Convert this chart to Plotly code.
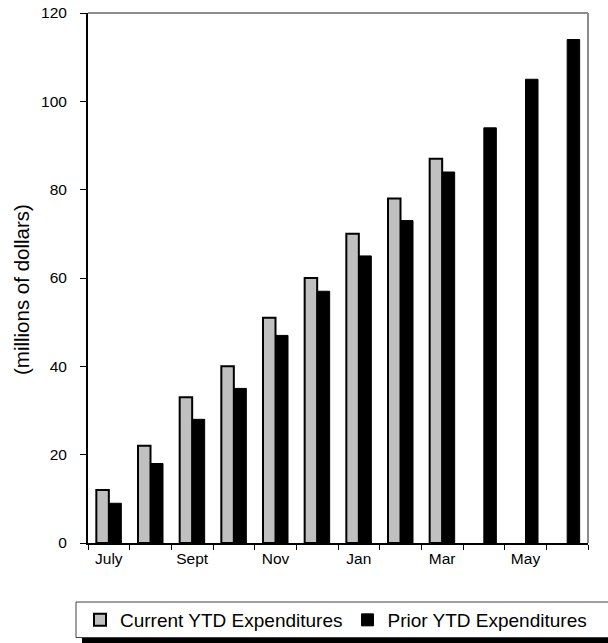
import plotly.graph_objects as go

months = ["July", "Aug", "Sept", "Oct", "Nov", "Dec", "Jan", "Feb", "Mar", "Apr", "May", "June"]
tick_labels = ["July", "", "Sept", "", "Nov", "", "Jan", "", "Mar", "", "May", ""]
current_ytd = [12, 22, 33, 40, 51, 60, 70, 78, 87, None, None, None]
prior_ytd = [9, 18, 28, 35, 47, 57, 65, 73, 84, 94, 105, 114]
y_ticks = [0, 20, 40, 60, 80, 100, 120]

W, H = 608, 643
L, R, T, B = 88, 20, 13, 100
pw, ph = W - L - R, H - T - B

def px_x(x):
    return (x - L) / pw

def px_y(y):
    return (H - B - y) / ph

fig = go.Figure()
fig.add_trace(go.Bar(
    x=months, y=current_ytd, name="Current YTD Expenditures",
    marker=dict(color="#C0C0C0", line=dict(color="black", width=2)),
))
fig.add_trace(go.Bar(
    x=months, y=prior_ytd, name="Prior YTD Expenditures",
    marker=dict(color="black", line=dict(color="black", width=1)),
))

font = "Arial, 'Liberation Sans', sans-serif"

shapes = [
    # legend shadow
    dict(type="rect", xref="paper", yref="paper",
         x0=px_x(82), x1=px_x(640), y0=px_y(608), y1=px_y(660),
         fillcolor="black", line=dict(width=0), layer="above"),
    # legend box
    dict(type="rect", xref="paper", yref="paper",
         x0=px_x(76), x1=px_x(640), y0=px_y(602), y1=px_y(637.5),
         fillcolor="white", line=dict(color="#404040", width=1), layer="above"),
    # plot area border (top, right)
    dict(type="line", xref="paper", yref="paper", x0=0, x1=1, y0=1, y1=1,
         line=dict(color="#8c8c8c", width=2)),
    dict(type="line", xref="paper", yref="paper", x0=1, x1=1, y0=0, y1=1,
         line=dict(color="#8c8c8c", width=2)),
]

fig.update_layout(
    width=W, height=H,
    margin=dict(l=L, r=R, t=T, b=B, autoexpand=False),
    paper_bgcolor="white", plot_bgcolor="white",
    barmode="group", bargap=0.4, bargroupgap=0,
    font=dict(family=font, color="black", size=15),
    showlegend=True,
    legend=dict(orientation="h", x=px_x(80), xanchor="left",
                y=px_y(620), yanchor="middle",
                font=dict(size=19, family=font, color="black"),
                bgcolor="rgba(0,0,0,0)", borderwidth=0,
                itemclick=False, itemdoubleclick=False),
    shapes=shapes,
    annotations=[dict(text="(millions of dollars)", xref="paper", yref="paper",
                      x=px_x(21), y=px_y(290), textangle=-90, showarrow=False,
                      font=dict(size=20.5, family=font, color="black"),
                      xanchor="center", yanchor="middle")],
)

fig.update_xaxes(
    type="category", tickmode="array", tickvals=months, ticktext=tick_labels,
    tickson="boundaries", ticks="outside", ticklen=5, tickcolor="black", tickwidth=1,
    showline=True, linecolor="black", linewidth=2, showgrid=False,
    tickfont=dict(size=15.5, family=font, color="black"),
)
fig.update_yaxes(
    range=[0, 120], tickmode="array", tickvals=y_ticks,
    ticks="outside", ticklen=6, tickcolor="black", tickwidth=1,
    showline=True, linecolor="black", linewidth=2, showgrid=False, zeroline=False,
    tickfont=dict(size=15.5, family=font, color="black"), ticklabelstandoff=10,
)

fig.write_html(
    "out.html",
    config={"displayModeBar": False},
    post_script="document.body.style.margin='0';document.body.style.overflow='hidden';",
)
